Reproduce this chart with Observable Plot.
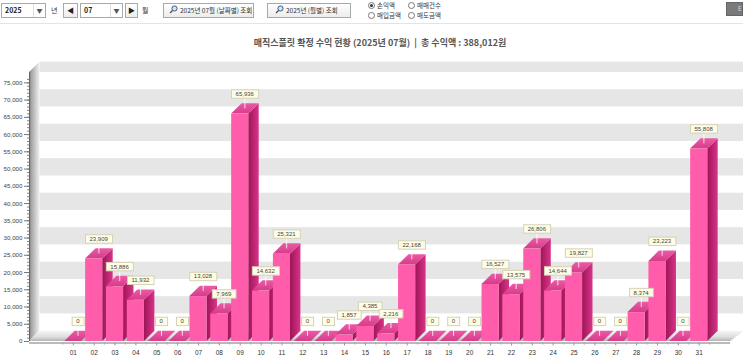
<!DOCTYPE html>
<html><head><meta charset="utf-8">
<script src="https://cdn.jsdelivr.net/npm/d3@7"></script>
<script src="https://cdn.jsdelivr.net/npm/@observablehq/plot@0.6"></script>
<style>
html,body{margin:0;padding:0}
body{width:743px;height:362px;overflow:hidden;background:#fff;position:relative;font-family:"Noto Sans CJK KR","Liberation Sans",sans-serif;color:#222}
.box{position:absolute;top:3px;height:15px;border:1px solid #a9a9a9;background:#fff;box-sizing:border-box;font-size:7px;line-height:13px;white-space:nowrap}
.btn{background:linear-gradient(#ffffff,#ececec)}
.dd{position:absolute;right:0;top:0;width:11px;height:13px;text-align:center;color:#555;font-size:6px;border-left:1px solid #ddd}
.lbl{position:absolute;top:4px;font-size:7px;line-height:13px;color:#333}
.radio{position:absolute;font-size:6.5px;line-height:9px;color:#333;white-space:nowrap}
.radio i{display:inline-block;width:5px;height:5px;border:1px solid #777;border-radius:50%;margin-right:2px;vertical-align:-1px;position:relative;background:#fff}
.radio i.on::after{content:"";position:absolute;left:1px;top:1px;width:3px;height:3px;border-radius:50%;background:#333}
#title{position:absolute;top:36px;left:0;width:760px;text-align:center;font-size:9px;font-weight:bold;color:#555;line-height:14px;white-space:pre}
#chart{position:absolute;left:0;top:52px}
</style></head><body>
<svg width="0" height="0" style="position:absolute">
  <defs>
    <linearGradient id="sideGrad" x1="0" x2="1" y1="0" y2="0">
      <stop offset="0" stop-color="#9e1556"/><stop offset="1" stop-color="#d9338a"/>
    </linearGradient>
    <linearGradient id="topGrad" x1="0" x2="0" y1="1" y2="0">
      <stop offset="0" stop-color="#d63c8a"/><stop offset="1" stop-color="#ec5aa5"/>
    </linearGradient>
    <linearGradient id="wallGrad" x1="0" x2="1" y1="0" y2="0">
      <stop offset="0" stop-color="#7d7d7d"/><stop offset="0.25" stop-color="#a8a8a8"/><stop offset="1" stop-color="#f0f0f0"/>
    </linearGradient>
    <linearGradient id="floorGrad" x1="0" x2="0" y1="0" y2="1">
      <stop offset="0" stop-color="#f6f6f6"/><stop offset="0.6" stop-color="#dedede"/><stop offset="1" stop-color="#b4b4b4"/>
    </linearGradient>
  </defs>
</svg>

<div class="box" style="left:1px;width:45px;font-weight:bold;padding-left:3px">2025<span class="dd">▼</span></div>
<div class="lbl" style="left:51px">년</div>
<div class="box btn" style="left:63px;width:15px;text-align:center;font-size:7px">◀</div>
<div class="box" style="left:80px;width:43px;font-weight:bold;padding-left:3px">07<span class="dd">▼</span></div>
<div class="box btn" style="left:125px;width:13px;text-align:center;font-size:7px">▶</div>
<div class="lbl" style="left:142px">월</div>
<div class="box btn" style="left:163px;width:91px;padding-left:5px;font-size:6.5px;color:#333">
  <svg width="9" height="9" style="vertical-align:-1px;margin-right:2px"><circle cx="5.5" cy="3.5" r="2.6" fill="#cfe3f7" stroke="#3a5f8a" stroke-width="1"/><line x1="3.5" y1="5.5" x2="1" y2="8" stroke="#555" stroke-width="1.5"/></svg>2025년 07월 (날짜별) 조회</div>
<div class="box btn" style="left:267px;width:84px;padding-left:7px;font-size:6.5px;color:#333">
  <svg width="9" height="9" style="vertical-align:-1px;margin-right:2px"><circle cx="5.5" cy="3.5" r="2.6" fill="#cfe3f7" stroke="#3a5f8a" stroke-width="1"/><line x1="3.5" y1="5.5" x2="1" y2="8" stroke="#555" stroke-width="1.5"/></svg>2025년 (월별) 조회</div>
<div class="radio" style="left:368px;top:1px"><i class="on"></i>손익액</div>
<div class="radio" style="left:408px;top:1px"><i></i>매매건수</div>
<div class="radio" style="left:368px;top:11px"><i></i>매입금액</div>
<div class="radio" style="left:408px;top:11px"><i></i>매도금액</div>
<div style="position:absolute;left:726px;top:2px;width:17px;height:14px;background:#7a7a7a;border:1px solid #666;box-sizing:border-box;color:#ddd;font-size:6px;line-height:12px;padding-left:11px">E</div>
<div style="position:absolute;left:0;top:23px;width:743px;height:1px;background:#e4e4e4"></div>

<div id="title">매직스플릿 확정 수익 현황 (2025년 07월)  |  총 수익액 : 388,012원</div>
<div id="chart"></div>

<script>
// ---- data ----
const days = ["01","02","03","04","05","06","07","08","09","10","11","12","13","14","15","16","17","18","19","20","21","22","23","24","25","26","27","28","29","30","31"];
const values = [0,23909,15886,11932,0,0,13028,7969,65936,14632,25321,0,0,1857,4385,2216,22168,0,0,0,16527,13575,26806,14644,19827,0,0,8374,23223,0,55808];
const yTickValues = d3.range(0, 75001, 5000);

// ---- geometry in data units ----
const X0 = -1.1, X1 = 32.5, YMAX = 78000;
const DX = 0.5, DY = 3000, HW = 0.41;

const bars = days.map((label, i) => ({day: i + 1, label, value: values[i]}));
const sidePts = bars.flatMap(b => [
  {day: b.day, x: b.day + HW, y1: 0, y2: b.value},
  {day: b.day, x: b.day + HW + DX, y1: DY, y2: b.value + DY}
]);
const topPts = bars.flatMap(b => [
  {day: b.day, y: b.value, x1: b.day - HW, x2: b.day + HW},
  {day: b.day, y: b.value + DY, x1: b.day - HW + DX, x2: b.day + HW + DX}
]);
const bands = d3.range(5000, YMAX, 10000).map(v => ({y1: v + DY, y2: Math.min(v + 5000, YMAX) + DY}));
const wallPts = [{x: X0, y1: 0, y2: YMAX}, {x: X0 + DX, y1: DY, y2: YMAX + DY}];
const floorPts = [{y: 0, x1: X0, x2: X1}, {y: DY, x1: X0 + DX, x2: X1 + DX + 0.2}];
const fmt = d3.format(",");

const chart = Plot.plot({
  width: 743, height: 310,
  marginLeft: 29, marginRight: 13, marginTop: 20, marginBottom: 21,
  x: {type: "linear", domain: [X0, X1], axis: null},
  y: {domain: [0, YMAX], axis: null},
  style: {fontFamily: "'Liberation Sans', Arial, sans-serif", background: "transparent", overflow: "visible"},
  marks: [
    Plot.rect(bands, {x1: X0 + DX, x2: X1 + DX + 0.2, y1: "y1", y2: "y2", fill: "#e6e6e6"}),
    Plot.areaY(wallPts, {x: "x", y1: "y1", y2: "y2", fill: "url(#wallGrad)"}),
    Plot.areaX(floorPts, {y: "y", x1: "x1", x2: "x2", fill: "url(#floorGrad)"}),
    Plot.areaY(sidePts, {x: "x", y1: "y1", y2: "y2", z: "day", fill: "url(#sideGrad)"}),
    Plot.areaX(topPts, {y: "y", x1: "x1", x2: "x2", z: "day", fill: "url(#topGrad)"}),
    Plot.rectY(bars, {x1: d => d.day - HW, x2: d => d.day + HW, y1: 0, y2: "value", fill: "#ff5cab"}),
    Plot.ruleX(bars, {x: d => d.day + DX * 0.45, y1: d => d.value + DY * 0.5, y2: d => d.value + DY * 1.45, stroke: "#fff", strokeOpacity: 0.8, strokeWidth: 1}),
    Plot.ruleX([X0], {stroke: "#666"}),
    Plot.ruleY([0], {stroke: "#777", dy: 1.5}),
    Plot.axisY(d3.range(0, 76001, 1000), {tickSize: 2, tickFormat: () => "", stroke: "#888"}),
    Plot.axisY(yTickValues, {tickSize: 5, tickPadding: 2, tickFormat: fmt, fontSize: 6.2, fill: "#444", stroke: "#777"}),
    Plot.axisX(d3.range(1, 32), {tickSize: 3, tickPadding: 4, tickFormat: d => days[d - 1], fontSize: 6.5, fill: "#333", stroke: "#999", dy: 1.5}),
    Plot.axisX(d3.range(0.5, 32, 1), {tickSize: 2, tickFormat: () => "", stroke: "#aaa", dy: 1.5}),
    Plot.text(bars, {x: "day", y: "value", text: d => fmt(d.value), dx: 4.5, dy: -20, fontSize: 6, fill: "#444", className: "vlabels"})
  ]
});
document.getElementById("chart").append(chart);

// label boxes behind each value label
const gs = chart.querySelectorAll('g[aria-label="text"]');
const g = gs[gs.length - 1];
if (g) {
  Array.from(g.querySelectorAll("text")).forEach(t => {
    const b = t.getBBox();
    const r = document.createElementNS("http://www.w3.org/2000/svg", "rect");
    r.setAttribute("x", b.x - 4);
    r.setAttribute("y", b.y - 1.2);
    r.setAttribute("width", b.width + 8);
    r.setAttribute("height", b.height + 2.4);
    r.setAttribute("fill", "#fffde6");
    r.setAttribute("stroke", "#d4d2b8");
    r.setAttribute("stroke-width", "1");
    const tr = t.getAttribute("transform");
    if (tr) r.setAttribute("transform", tr);
    t.parentNode.insertBefore(r, t);
  });
}
</script>
</body></html>
